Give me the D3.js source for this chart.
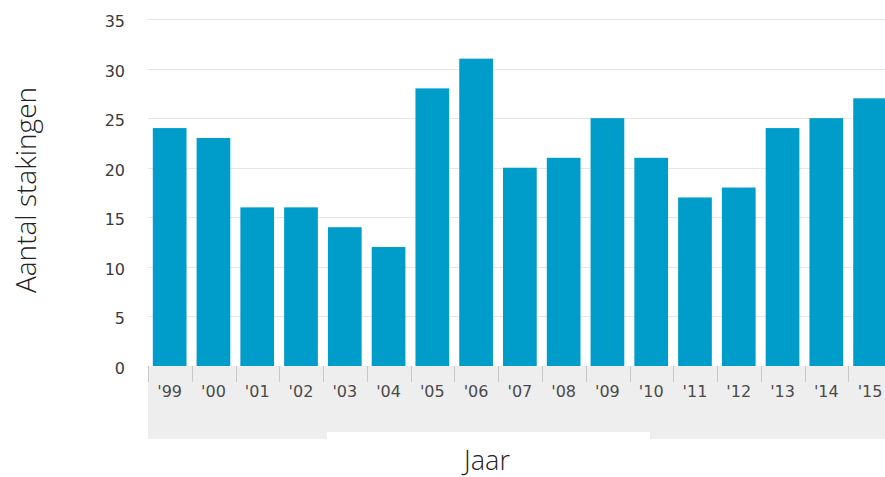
<!DOCTYPE html>
<html lang="nl">
<head>
    <meta charset="utf-8">
    <title>Aantal stakingen per jaar</title>
    <script src="https://d3js.org/d3.v7.min.js"></script>
    <style type="text/css">
        body { margin: 0; background: #fff; }
        .grid line { stroke: #e6e6e6; stroke-width: 1; }
        .ytick { font-family: "DejaVu Sans", Verdana, sans-serif; font-size: 16px; fill: #3a3a3a; }
        .xtick { font-family: "DejaVu Sans", Verdana, sans-serif; font-size: 16px; fill: #4a4a4a; }
        .title { font-family: "Open Sans", sans-serif; font-weight: 300; fill: #222; }
    </style>
</head>
<body>
    <script type="text/javascript">
        // categories and values
        var years = ["'99", "'00", "'01", "'02", "'03", "'04", "'05", "'06", "'07", "'08",
            "'09", "'10", "'11", "'12", "'13", "'14", "'15"];
        var strikes = [24, 23, 16, 16, 14, 12, 28, 31, 20, 21, 25, 21, 17, 18, 24, 25, 27];
        var yTicks = [0, 5, 10, 15, 20, 25, 30, 35];

        var w = 885, h = 477;
        var plotLeft = 148, plotTop = 19, plotBottom = 366;
        var step = 43.75;

        var svg = d3.select("body").append("svg")
            .attr("width", w)
            .attr("height", h);

        var x = d3.scaleBand()
            .domain(years)
            .range([plotLeft, plotLeft + years.length * step])
            .paddingInner(0.23)
            .paddingOuter(0.11);

        var y = d3.scaleLinear()
            .domain([0, 35])
            .range([plotBottom, plotTop]);

        // grey category area
        var xEnd = plotLeft + years.length * step;
        svg.append("rect")
            .attr("x", plotLeft).attr("y", plotBottom)
            .attr("width", xEnd - plotLeft).attr("height", 66)
            .attr("fill", "#eeeeee");
        svg.append("rect")
            .attr("x", plotLeft).attr("y", plotBottom + 66)
            .attr("width", 179).attr("height", 7)
            .attr("fill", "#eeeeee");
        svg.append("rect")
            .attr("x", 650).attr("y", plotBottom + 66)
            .attr("width", xEnd - 650).attr("height", 7)
            .attr("fill", "#eeeeee");

        // grid lines
        svg.append("g").attr("class", "grid")
            .selectAll("line")
            .data(yTicks.filter(function (d) { return d > 0; }))
            .enter().append("line")
            .attr("x1", plotLeft).attr("x2", w)
            .attr("y1", function (d) { return Math.round(y(d)) + 0.5; })
            .attr("y2", function (d) { return Math.round(y(d)) + 0.5; });

        // y labels
        svg.append("g")
            .selectAll("text")
            .data(yTicks)
            .enter().append("text")
            .attr("class", "ytick")
            .attr("x", 125)
            .attr("y", function (d) { return y(d) + 8; })
            .attr("text-anchor", "end")
            .text(function (d) { return d; });

        // bars
        svg.append("g")
            .selectAll("rect")
            .data(strikes)
            .enter().append("rect")
            .attr("x", function (d, i) { return x(years[i]); })
            .attr("y", function (d) { return y(d); })
            .attr("width", x.bandwidth())
            .attr("height", function (d) { return y(0) - y(d); })
            .attr("fill", "#009dcb");

        // x ticks at band boundaries
        svg.append("g")
            .selectAll("line")
            .data(years)
            .enter().append("line")
            .attr("x1", function (d) { return Math.round(x(d) - x.step() * x.paddingOuter()) + 0.5; })
            .attr("x2", function (d) { return Math.round(x(d) - x.step() * x.paddingOuter()) + 0.5; })
            .attr("y1", plotBottom)
            .attr("y2", plotBottom + 16)
            .attr("stroke", "#c8c8c8");

        // x labels
        svg.append("g")
            .selectAll("text")
            .data(years)
            .enter().append("text")
            .attr("class", "xtick")
            .attr("x", function (d) { return x(d) + x.bandwidth() / 2; })
            .attr("y", 397)
            .attr("text-anchor", "middle")
            .text(function (d) { return d; });

        // axis titles
        svg.append("text")
            .attr("class", "title")
            .attr("transform", "translate(36,190)rotate(-90)")
            .attr("text-anchor", "middle")
            .style("font-size", "28px")
            .text("Aantal stakingen");

        svg.append("text")
            .attr("class", "title")
            .attr("x", 487)
            .attr("y", 470)
            .attr("text-anchor", "middle")
            .style("font-size", "27px")
            .text("Jaar");
    </script>
</body>
</html>
